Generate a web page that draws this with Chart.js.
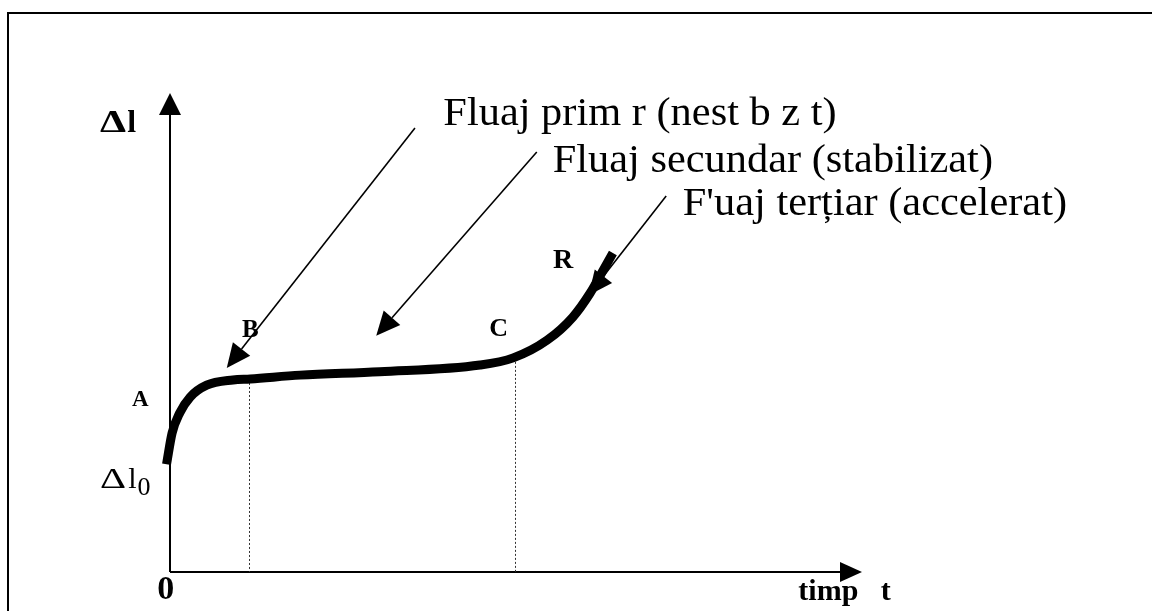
<!DOCTYPE html>
<html>
<head>
<meta charset="utf-8">
<script src="https://cdn.jsdelivr.net/npm/chart.js@4"></script>
<style>
  html, body { margin: 0; padding: 0; background: #fff; }
  #wrap { width: 1152px; height: 611px; }
</style>
</head>
<body>
<div id="wrap"><canvas id="creep"></canvas></div>
<script>
// creep curve, time t vs elongation Δl (arbitrary units)
const timeValues       = [-0.05, 0.03, 0.14, 0.29, 0.53, 0.91, 1.16, 1.88, 3.03, 4.48, 4.96, 5.45, 5.82, 6.07, 6.26, 6.40];
const elongationValues = [ 2.25, 2.90, 3.32, 3.65, 3.90, 4.01, 4.03, 4.11, 4.18, 4.32, 4.47, 4.84, 5.32, 5.82, 6.30, 6.66];

// boundaries between creep stages (dotted verticals)
const stageTimes  = [1.14, 4.99];
const stageLevels = [4.03, 4.47];

// stage annotations
const stageTitles = [
  'Fluaj prim r (nest b z t)',
  'Fluaj secundar (stabilizat)',
  "F'uaj terțiar (accelerat)"
];

const SERIF = '"Liberation Serif", "Times New Roman", serif';

const creepDecor = {
  id: 'creepDecor',
  beforeDatasetsDraw(chart) {
    const { ctx, scales: { x, y } } = chart;
    const X = t => x.getPixelForValue(t);
    const Y = v => y.getPixelForValue(v);
    ctx.save();

    // outer frame
    ctx.strokeStyle = '#000';
    ctx.lineWidth = 2;
    ctx.strokeRect(8, 13, 1160, 700);

    // axes
    ctx.lineWidth = 2;
    ctx.beginPath();
    ctx.moveTo(X(0), Y(0));
    ctx.lineTo(X(0), Y(10) + 18);
    ctx.moveTo(X(0), Y(0));
    ctx.lineTo(X(10) - 18, Y(0));
    ctx.stroke();
    ctx.fillStyle = '#000';
    ctx.beginPath();
    ctx.moveTo(X(0), Y(10));
    ctx.lineTo(X(0) - 11, Y(10) + 22);
    ctx.lineTo(X(0) + 11, Y(10) + 22);
    ctx.closePath();
    ctx.fill();
    ctx.beginPath();
    ctx.moveTo(X(10), Y(0));
    ctx.lineTo(X(10) - 22, Y(0) - 10);
    ctx.lineTo(X(10) - 22, Y(0) + 10);
    ctx.closePath();
    ctx.fill();

    // dotted stage limits
    ctx.lineWidth = 1;
    ctx.strokeStyle = '#333';
    ctx.setLineDash([2, 2]);
    stageTimes.forEach((t, i) => {
      ctx.beginPath();
      ctx.moveTo(Math.round(X(t)) + 0.5, Y(stageLevels[i]));
      ctx.lineTo(Math.round(X(t)) + 0.5, Y(0));
      ctx.stroke();
    });
    ctx.restore();
  },
  afterDatasetsDraw(chart) {
    const { ctx, scales: { x, y } } = chart;
    const X = t => x.getPixelForValue(t);
    const Y = v => y.getPixelForValue(v);
    ctx.save();
    ctx.fillStyle = '#000';
    ctx.strokeStyle = '#000';

    const arrow = (t0, v0, t1, v1) => {
      const x0 = X(t0), y0 = Y(v0), x1 = X(t1), y1 = Y(v1);
      const a = Math.atan2(y1 - y0, x1 - x0);
      const len = 24, hw = 11;
      const bx = x1 - len * Math.cos(a), by = y1 - len * Math.sin(a);
      ctx.lineWidth = 1.6;
      ctx.beginPath();
      ctx.moveTo(x0, y0);
      ctx.lineTo(bx, by);
      ctx.stroke();
      ctx.beginPath();
      ctx.moveTo(x1, y1);
      ctx.lineTo(bx + hw * Math.sin(a), by - hw * Math.cos(a));
      ctx.lineTo(bx - hw * Math.sin(a), by + hw * Math.cos(a));
      ctx.closePath();
      ctx.fill();
    };
    arrow(3.54, 9.27, 0.82, 4.26);
    arrow(5.30, 8.77, 2.98, 4.93);
    arrow(7.17, 7.85, 6.05, 5.78);

    // text at pixel position, optionally stretched horizontally; returns its drawn width
    const put = (s, px, py, font, sx, align, base) => {
      ctx.save();
      ctx.font = font;
      ctx.textAlign = align || 'left';
      ctx.textBaseline = base || 'alphabetic';
      ctx.translate(px, py);
      ctx.scale(sx || 1, 1);
      ctx.fillText(s, 0, 0);
      const w = ctx.measureText(s).width * (sx || 1);
      ctx.restore();
      return w;
    };
    const text = (s, t, v, font, align, base, sx) => put(s, X(t), Y(v), font, sx, align, base);

    // stage titles
    text(stageTitles[0], 3.95, 9.33, '40px ' + SERIF, 'left', 'alphabetic', 1.06);
    text(stageTitles[1], 5.53, 8.35, '40px ' + SERIF, 'left', 'alphabetic', 1.06);
    text(stageTitles[2], 7.41, 7.45, '40px ' + SERIF, 'left', 'alphabetic', 1.06);

    // axis labels
    let px = X(-1.01), py = Y(9.19);
    px += put('Δ', px, py, 'bold 32px ' + SERIF, 1.3) + 1;
    put('l', px, py, 'bold 32px ' + SERIF);
    text('0', -0.06, -0.38, 'bold 34px ' + SERIF, 'center', 'middle');
    text('timp   t', 9.08, -0.58, 'bold 30px ' + SERIF);

    // Δl0 with subscript
    px = X(-1.01); py = Y(1.76);
    px += put('Δ', px, py, '30px ' + SERIF, 1.35) + 2;
    px += put('l', px, py, '30px ' + SERIF);
    put('0', px + 1, py + 7, '26px ' + SERIF);

    // point letters
    text('A', -0.43, 3.59, 'bold 23px ' + SERIF, 'center', 'middle');
    text('B', 1.16, 5.05, 'bold 25px ' + SERIF, 'center', 'middle');
    text('C', 4.75, 5.07, 'bold 26px ' + SERIF, 'center', 'middle');
    text('R', 5.68, 6.49, 'bold 28px ' + SERIF, 'center', 'middle');

    ctx.restore();
  }
};

new Chart(document.getElementById('creep'), {
  type: 'line',
  data: {
    datasets: [{
      data: timeValues.map((t, i) => ({ x: t, y: elongationValues[i] })),
      borderColor: '#000',
      borderWidth: 9,
      borderCapStyle: 'butt',
      pointRadius: 0,
      cubicInterpolationMode: 'monotone',
      fill: false,
      clip: false
    }]
  },
  options: {
    responsive: true,
    maintainAspectRatio: false,
    animation: false,
    layout: { padding: { left: 170, right: 290, top: 93, bottom: 39 } },
    scales: {
      x: { type: 'linear', min: 0, max: 10, display: false },
      y: { min: 0, max: 10, display: false }
    },
    plugins: {
      legend: { display: false },
      tooltip: { enabled: false }
    }
  },
  plugins: [creepDecor]
});
</script>
</body>
</html>
